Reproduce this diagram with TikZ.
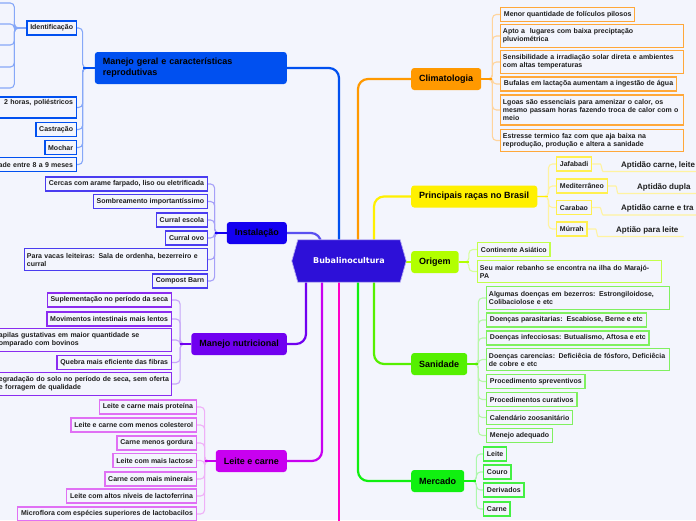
\documentclass[tikz,border=0pt]{standalone}
\usepackage{fontspec}
\setmainfont{Liberation Sans}
\newfontfamily\hexfont{DejaVu Sans}
\usetikzlibrary{calc}
\pgfdeclarelayer{background}
\pgfsetlayers{background,main}
\hyphenpenalty=10000
\exhyphenpenalty=10000
\definecolor{bg}{HTML}{F3F5FD}
\definecolor{txt}{HTML}{1E1E1E}
\definecolor{hexc}{HTML}{2D10D8}
\definecolor{mgc}{HTML}{0050F0}\definecolor{mgl}{HTML}{86A8F8}\definecolor{mgb}{HTML}{0050F0}
\definecolor{instc}{HTML}{1400F0}\definecolor{instm}{HTML}{5A50F0}\definecolor{instl}{HTML}{A6A0F8}\definecolor{instb}{HTML}{4A3CF0}
\definecolor{nutc}{HTML}{7000F0}\definecolor{nutl}{HTML}{C6A6F8}\definecolor{nutb}{HTML}{8A2CF0}
\definecolor{lcc}{HTML}{C800F0}\definecolor{lcl}{HTML}{EFB0F8}\definecolor{lcb}{HTML}{E070F4}
\definecolor{pinkc}{HTML}{FF00C8}
\definecolor{climc}{HTML}{FF9900}\definecolor{climl}{HTML}{FFD49C}\definecolor{climb}{HTML}{FFA83A}
\definecolor{racc}{HTML}{FFF000}\definecolor{racl}{HTML}{FFF3A0}\definecolor{racb}{HTML}{FFF050}
\definecolor{oric}{HTML}{B2FF00}\definecolor{oril}{HTML}{D6FF9A}\definecolor{orib}{HTML}{C2FF4A}
\definecolor{sanc}{HTML}{55F000}\definecolor{sanl}{HTML}{B8F8A8}\definecolor{sanb}{HTML}{80F060}
\definecolor{merc}{HTML}{10F010}\definecolor{merl}{HTML}{ACF8AC}\definecolor{merb}{HTML}{44F044}
\newcommand{\chfont}{\fontsize{7}{8}\selectfont\bfseries}
\newcommand{\mnfont}{\fontsize{9}{11}\selectfont\bfseries}
\newcommand{\gcfont}{\fontsize{8}{9}\selectfont\bfseries}
\begin{document}
\begin{tikzpicture}[x=1pt,y=-1pt,
  mainn/.style={rounded corners=3pt, font=\mnfont, inner xsep=8pt, inner ysep=3pt, minimum height=22pt, text=black},
  childn/.style={draw, line width=1.3pt, fill=bg, font=\chfont, inner xsep=3.3pt, inner ysep=2pt, minimum height=14pt, align=left, text=txt},
  multi/.style={inner xsep=2.3pt},
  two/.style={minimum height=22.5pt},
  three/.style={minimum height=30pt},
  gtext/.style={font=\gcfont, inner sep=0pt, text=txt},
  cl/.style={line width=1.1pt, rounded corners=4pt},
  stub/.style={line width=1.7pt},
  mainc/.style={line width=2.2pt, rounded corners=10pt}
]
\useasboundingbox (0,0) rectangle (696,520);

% centre
\node[font=\hexfont\fontsize{8}{10}\selectfont\bfseries, text=white, minimum width=114pt, minimum height=42pt, inner sep=0pt] (hex) at (349,261) {Bubalinocultura};

% main branches
\node[mainn, fill=mgc, anchor=east, text width=176pt, align=left, minimum height=32pt] (mg) at (287,68) {Manejo geral e características\\reprodutivas};
\node[mainn, fill=instc, anchor=east] (inst) at (287,233) {Instalação};
\node[mainn, fill=nutc, anchor=east] (nut) at (287,344) {Manejo nutricional};
\node[mainn, fill=lcc, anchor=east] (lc) at (287,461) {Leite e carne};
\node[mainn, fill=climc, anchor=west] (clim) at (411,79) {Climatologia};
\node[mainn, fill=racc, anchor=west, minimum width=126pt] (rac) at (411,196.5) {Principais raças no Brasil};
\node[mainn, fill=oric, anchor=west] (ori) at (411,262) {Origem};
\node[mainn, fill=sanc, anchor=west] (san) at (411,364) {Sanidade};
\node[mainn, fill=merc, anchor=west] (mer) at (411,481) {Mercado};
\coordinate (pk) at (339,530);

% Manejo geral children
\node[childn, draw=mgb, anchor=east] (ident) at (77,28) {Identificação};
\node[childn, draw=mgb, anchor=east, align=right, text width=150pt, minimum height=21pt] (hor) at (77,107.5) {2 horas, poliéstricos\hspace*{5pt}\\\strut};
\node[childn, draw=mgb, anchor=east] (cast) at (77,129.5) {Castração};
\node[childn, draw=mgb, anchor=east] (moch) at (77,147.5) {Mochar};
\node[childn, draw=mgb, anchor=east, align=right, text width=120pt, minimum height=13.5pt] (ade) at (77,164.5) {ade entre 8 a 9 meses};
\coordinate (id1) at (-10,3);
\coordinate (id2) at (-10,24);
\coordinate (id3) at (-10,45);
\coordinate (id4) at (-10,67);
\coordinate (id5) at (-10,88);

% Instalacao children
\node[childn, draw=instb, anchor=east] (c1) at (208,184) {Cercas com arame farpado, liso ou eletrificada};
\node[childn, draw=instb, anchor=east] (c2) at (208,201.5) {Sombreamento importantíssimo};
\node[childn, draw=instb, anchor=east] (c3) at (208,220) {Curral escola};
\node[childn, draw=instb, anchor=east] (c4) at (208,238) {Curral ovo};
\node[childn, draw=instb, anchor=east, multi, two, text width=178.1pt] (c5) at (208,259.5) {Para vacas leiteiras: Sala de ordenha, bezerreiro e\\curral};
\node[childn, draw=instb, anchor=east] (c6) at (208,281) {Compost Barn};

% Manejo nutricional children
\node[childn, draw=nutb, anchor=east] (n1) at (172,300) {Suplementação no período da seca};
\node[childn, draw=nutb, anchor=east] (n2) at (172,319) {Movimentos intestinais mais lentos};
\node[childn, draw=nutb, anchor=west, multi, two, text width=172.1pt] (n3) at (-6,340) {\hspace*{2pt}apilas gustativas em maior quantidade se\\\hspace*{2pt}omparado com bovinos};
\node[childn, draw=nutb, anchor=east] (n4) at (172,362.5) {Quebra mais eficiente das fibras};
\node[childn, draw=nutb, anchor=west, multi, two, text width=172.1pt] (n5) at (-6,384) {\hspace*{2pt}egradação do solo no período de seca, sem oferta\\\hspace*{2pt}e forragem de qualidade};

% Leite e carne children
\node[childn, draw=lcb, anchor=east] (l1) at (197,407) {Leite e carne mais proteína};
\node[childn, draw=lcb, anchor=east] (l2) at (197,425) {Leite e carne com menos colesterol};
\node[childn, draw=lcb, anchor=east] (l3) at (197,443) {Carne menos gordura};
\node[childn, draw=lcb, anchor=east] (l4) at (197,460.5) {Leite com mais lactose};
\node[childn, draw=lcb, anchor=east] (l5) at (197,479) {Carne com mais minerais};
\node[childn, draw=lcb, anchor=east] (l6) at (197,496) {Leite com altos níveis de lactoferrina};
\node[childn, draw=lcb, anchor=east] (l7) at (197,514) {Microflora com espécies superiores de lactobacilos};

% Climatologia children
\node[childn, draw=climb, anchor=west] (k1) at (500,14.5) {Menor quantidade de folículos pilosos};
\node[childn, draw=climb, anchor=west, multi, two, text width=178.1pt] (k2) at (500,36) {Apto a\ \ lugares com baixa preciptação\\pluviométrica};
\node[childn, draw=climb, anchor=west, multi, two, text width=178.1pt] (k3) at (500,62) {Sensibilidade a irradiação solar direta e ambientes\\com altas temperaturas};
\node[childn, draw=climb, anchor=west] (k4) at (500,84) {Bufalas em lactaçõa aumentam a ingestão de água};
\node[childn, draw=climb, anchor=west, multi, three, text width=178.1pt] (k5) at (500,110) {Lgoas são essenciais para amenizar o calor, os\\mesmo passam horas fazendo troca de calor com o\\meio};
\node[childn, draw=climb, anchor=west, multi, two, text width=178.1pt] (k6) at (500,140.5) {Estresse termico faz com que aja baixa na\\reprodução, produção e altera a sanidade};

% Racas children
\node[childn, draw=racb, anchor=west] (r1) at (556,164) {Jafabadi};
\node[childn, draw=racb, anchor=west] (r2) at (556,186) {Mediterrâneo};
\node[childn, draw=racb, anchor=west] (r3) at (556,207.5) {Carabao};
\node[childn, draw=racb, anchor=west] (r4) at (556,229) {Múrrah};
\node[gtext, anchor=base west] (g1) at (621,167) {Aptidão carne, leite};
\node[gtext, anchor=base west] (g2) at (637,189) {Aptidão dupla};
\node[gtext, anchor=base west] (g3) at (621,210.5) {Aptidão carne e tra};
\node[gtext, anchor=base west] (g4) at (616,232) {Aptião para leite};

% Origem children
\node[childn, draw=orib, anchor=west] (o1) at (477,249.5) {Continente Asiático};
\node[childn, draw=orib, anchor=west, multi, two, text width=179.1pt] (o2) at (477,271.5) {Seu maior rebanho se encontra na ilha do Marajó-\\PA};

% Sanidade children
\node[childn, draw=sanb, anchor=west, multi, two, text width=178.1pt] (s1) at (486,298) {Algumas doenças em bezerros: Estrongiloidose,\\Colibaciolose e etc};
\node[childn, draw=sanb, anchor=west] (s2) at (486,320) {Doenças parasitarias:\ \ Escabiose, Berne e etc};
\node[childn, draw=sanb, anchor=west] (s3) at (486,338) {Doenças infecciosas: Butualismo, Aftosa e etc};
\node[childn, draw=sanb, anchor=west, multi, two, text width=178.1pt] (s4) at (486,359.5) {Doenças carencias: Deficiêcia de fósforo, Deficiêcia\\de cobre e etc};
\node[childn, draw=sanb, anchor=west] (s5) at (486,381.5) {Procedimento spreventivos};
\node[childn, draw=sanb, anchor=west] (s6) at (486,399.5) {Procedimentos curativos};
\node[childn, draw=sanb, anchor=west] (s7) at (486,417.5) {Calendário zoosanitário};
\node[childn, draw=sanb, anchor=west] (s8) at (486,435.5) {Menejo adequado};

% Mercado children
\node[childn, draw=merb, anchor=west] (m1) at (483,454) {Leite};
\node[childn, draw=merb, anchor=west] (m2) at (483,472) {Couro};
\node[childn, draw=merb, anchor=west] (m3) at (483,490) {Derivados};
\node[childn, draw=merb, anchor=west] (m4) at (483,509) {Carne};

\begin{pgfonlayer}{background}
\fill[bg] (0,0) rectangle (696,520);
% child connectors
\foreach \c in {ident,hor,cast,moch,ade} \draw[cl, mgl] (mg.west) -- ++(-12,0) |- (\c.east);
\draw[stub, mgc] (mg.west) -- ++(-12,0);
\foreach \c in {id1,id2,id3,id4,id5} \draw[cl, mgl] (ident.west) -- ++(-12,0) |- (\c);
\draw[stub, mgl] (ident.west) -- ++(-12,0);
\foreach \c in {c1,c2,c3,c4,c5,c6} \draw[cl, instl] (inst.west) -- ++(-12,0) |- (\c.east);
\draw[stub, instc] (inst.west) -- ++(-12,0);
\foreach \c in {n1,n2,n3,n4,n5} \draw[cl, nutl] (nut.west) -- ++(-11,0) |- (\c.east);
\draw[stub, nutc] (nut.west) -- ++(-11,0);
\foreach \c in {l1,l2,l3,l4,l5,l6,l7} \draw[cl, lcl] (lc.west) -- ++(-11,0) |- (\c.east);
\draw[stub, lcc] (lc.west) -- ++(-11,0);
\foreach \c in {k1,k2,k3,k4,k5,k6} \draw[cl, climl] (clim.east) -- ++(11,0) |- (\c.west);
\draw[stub, climc] (clim.east) -- ++(11,0);
\foreach \c in {r1,r2,r3,r4} \draw[cl, racl] (rac.east) -- ++(11,0) |- (\c.west);
\draw[stub, racc] (rac.east) -- ++(11,0);
\foreach \c in {o1,o2} \draw[cl, oril] (ori.east) -- ++(10,0) |- (\c.west);
\draw[stub, oric] (ori.east) -- ++(10,0);
\foreach \c in {s1,s2,s3,s4,s5,s6,s7,s8} \draw[cl, sanl] (san.east) -- ++(11,0) |- (\c.west);
\draw[stub, sanc] (san.east) -- ++(11,0);
\foreach \c in {m1,m2,m3,m4} \draw[cl, merl] (mer.east) -- ++(12,0) |- (\c.west);
\draw[stub, merc] (mer.east) -- ++(12,0);
% grandchildren underlines
\draw[cl, racl] (r1.east) -- ++(4,0) to[out=0,in=180] ($(g1.base west)+(-14,4.5)$) -- ($(g1.base east)+(10,4.5)$);
\draw[cl, racl] (r2.east) -- ++(4,0) to[out=0,in=180] ($(g2.base west)+(-15,4.5)$) -- ($(g2.base east)+(6,4.5)$);
\draw[cl, racl] (r3.east) -- ++(4,0) to[out=0,in=180] ($(g3.base west)+(-14,4.5)$) -- ($(g3.base east)+(10,4.5)$);
\draw[cl, racl] (r4.east) -- ++(4,0) to[out=0,in=180] ($(g4.base west)+(-14,4.5)$) -- ($(g4.base east)+(5,4.5)$);
% main connectors
\draw[mainc, mgc] ([xshift=-10pt]hex.center) |- (mg.east);
\draw[mainc, instm] ([xshift=-28pt]hex.center) |- (inst.east);
\draw[mainc, nutc] ([xshift=-43pt]hex.center) |- (nut.east);
\draw[mainc, lcc] ([xshift=-27pt]hex.center) |- (lc.east);
\draw[mainc, pinkc] ([xshift=-10pt]hex.center) -- (pk);
\draw[mainc, climc] ([xshift=9pt]hex.center) |- (clim.west);
\draw[mainc, racc] ([xshift=25pt]hex.center) |- (rac.west);
\draw[mainc, oric] (ori.west) -- (ori.west -| hex.east);
\draw[mainc, sanc] ([xshift=25pt]hex.center) |- (san.west);
\draw[mainc, merc] ([xshift=9pt]hex.center) |- (mer.west);
% hexagon
\filldraw[fill=hexc, draw=hexc!35!white, line width=0.7pt] (hex.west) -- ($(hex.north west)+(6,0)$) -- ($(hex.north east)+(-6,0)$) -- (hex.east) -- ($(hex.south east)+(-6,0)$) -- ($(hex.south west)+(6,0)$) -- cycle;
\end{pgfonlayer}
\end{tikzpicture}
\end{document}
